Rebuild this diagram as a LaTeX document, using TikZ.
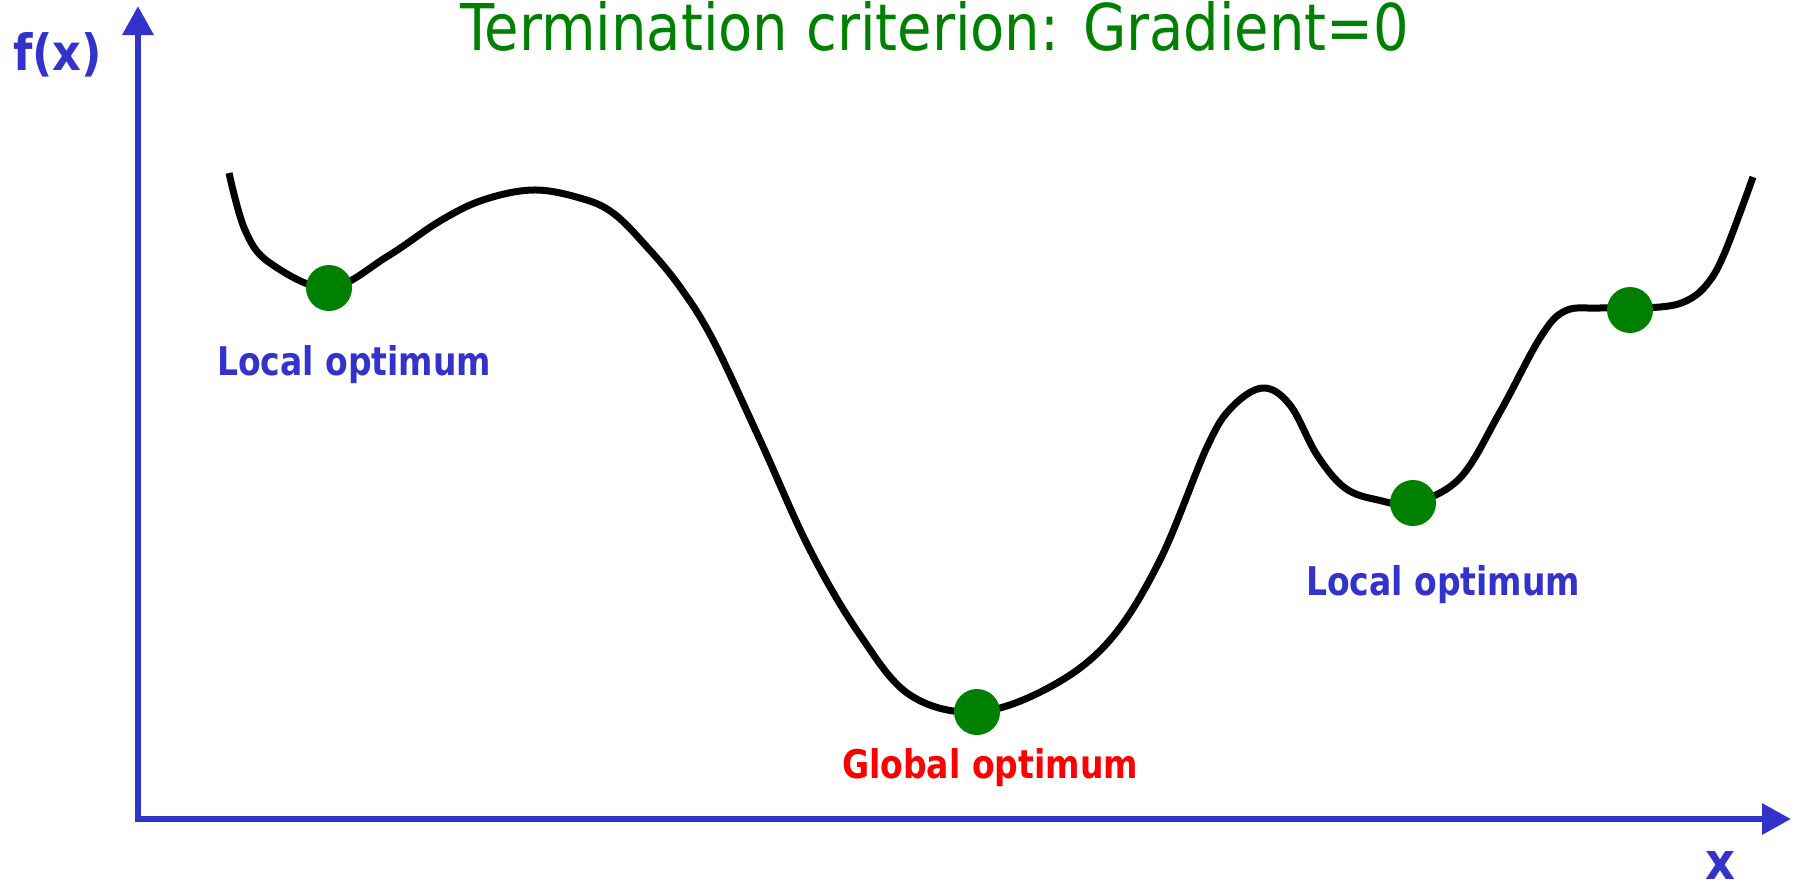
\documentclass[tikz,border=0pt]{standalone}
\usepackage{fontspec}
\setmainfont{DejaVu Sans}
\usetikzlibrary{arrows.meta}
\definecolor{axblue}{RGB}{51,51,204}
\definecolor{dgreen}{RGB}{0,128,0}
\definecolor{lred}{RGB}{255,0,0}
\tikzset{
  axisline/.style={draw=axblue, line width=6.5pt, line join=miter,
    {Triangle[length=29pt,width=30pt]}-{Triangle[length=29pt,width=30pt]}},
  curveline/.style={draw=black, line width=7pt, line join=round},
  optdot/.style={circle, fill=dgreen, minimum size=46pt, inner sep=0pt},
  txt/.style={anchor=base west, inner sep=0pt, outer sep=0pt},
}
\begin{document}
\begin{tikzpicture}[x=1pt,y=-1pt]
\useasboundingbox (0,0) rectangle (1796,889);
% axes
\coordinate (ytip) at (138,6);
\coordinate (origin) at (138,819);
\coordinate (xtip) at (1791,819);
\draw[axisline] (ytip) -- (origin) -- (xtip);
% curve
\draw[curveline] plot[smooth, tension=0.6] coordinates {
 (229,173) (245,230) (270,263) (329,288) (388,256) (440,221)
 (483,200) (533,190) (580,198) (613,213) (647,247) (680,287) (713,340)
 (760,440) (810,550) (860,635) (910,695) (977,712) (1050,687)
 (1110,640) (1160,560) (1207,447) (1232,407) (1263,388) (1290,405)
 (1317,455) (1345,488) (1378,500) (1413,503) (1460,478) (1500,412)
 (1540,338) (1565,311) (1600,308) (1660,307) (1688,300) (1708,283)
 (1725,252) (1753,177)};
% optimum dots
\node[optdot] (d1) at (329,288) {};
\node[optdot] (d2) at (977,712) {};
\node[optdot] (d3) at (1413,503) {};
\node[optdot] (d4) at (1630,310) {};
% labels
\node[txt, text=dgreen] (title) at (460,50) {\resizebox{949pt}{49pt}{Termination criterion: Gradient=0}};
\node[txt, text=axblue] (fx) at (13,70) {\resizebox{89pt}{38pt}{\bfseries f(x)}};
\node[txt, text=axblue] (xl) at (1705,879) {\resizebox{30pt}{28pt}{\bfseries x}};
\node[txt, text=axblue] (l1) at (217,375) {\resizebox{274pt}{30pt}{\bfseries Local optimum}};
\node[txt, text=axblue] (l2) at (1306,595) {\resizebox{274pt}{30pt}{\bfseries Local optimum}};
\node[txt, text=lred] (g1) at (842,778) {\resizebox{296pt}{30pt}{\bfseries Global optimum}};
\end{tikzpicture}
\end{document}
